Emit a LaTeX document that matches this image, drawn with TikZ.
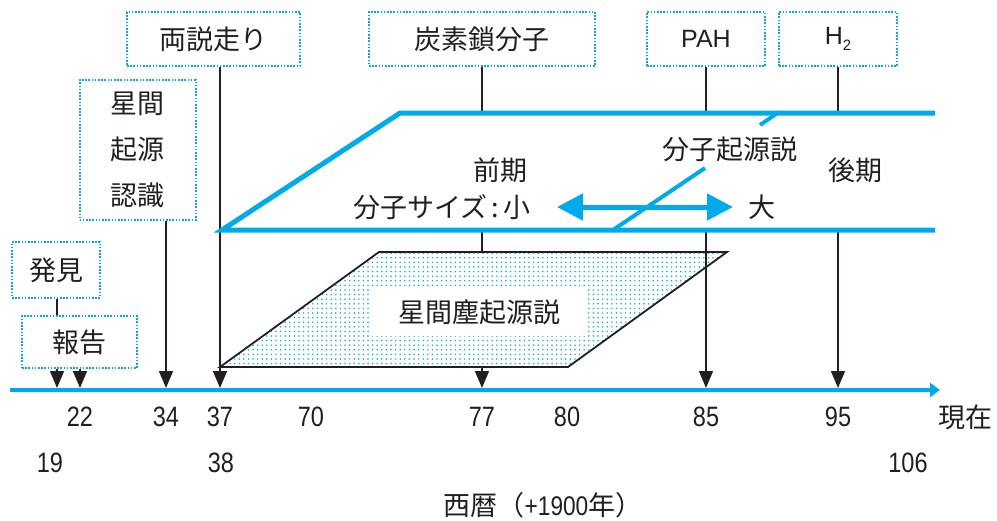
\documentclass[tikz,border=0pt]{standalone}
\usepackage{fontspec}
\setmainfont{Noto Sans CJK JP}
\newfontfamily\latinf{Liberation Sans}
\newfontfamily\numf[FakeStretch=0.84]{Liberation Sans}
\usetikzlibrary{arrows.meta,patterns.meta}
\definecolor{cy}{RGB}{0,170,235}
\definecolor{ink}{RGB}{35,31,32}
\tikzdeclarepattern{name=bdots,type=uncolored,
  bottom left={(-2.3pt,-2.3pt)},top right={(2.3pt,2.3pt)},tile size={(4.6pt,4.6pt)},
  code={\fill (0pt,0pt) circle (0.85pt);}}
\begin{document}
\begin{tikzpicture}[x=1pt,y=-1pt,
  lbl/.style={text=ink,font=\fontsize{27}{30}\selectfont,inner sep=0pt},
  num/.style={text=ink,font=\numf\fontsize{28}{30}\selectfont,inner sep=0pt},
  dbox/.style={draw=cy,line width=2pt,dash pattern=on 1.6pt off 1.6pt,text=ink,
    font=\fontsize{27}{46}\selectfont,inner sep=0pt,align=center},
  conn/.style={draw=ink,line width=1.5pt},
  arr/.style={conn,-{Triangle[length=17pt,width=14pt]}},
  band/.style={draw=cy,line width=5pt},
]
\useasboundingbox (0,0) rectangle (997,520);

% axis coordinates
\coordinate (a19) at (57,388);
\coordinate (a22) at (80,388);
\coordinate (a34) at (166,388);
\coordinate (a37) at (220,388);
\coordinate (a77) at (482,388);
\coordinate (a85) at (706,388);
\coordinate (a95) at (838,388);
\coordinate (axL) at (10,390);
\coordinate (axR) at (940,390);
\coordinate (bt) at (0,113);
\coordinate (bb) at (0,230);
\coordinate (ptop) at (0,252);
\coordinate (pbot) at (0,367);

% boxes
\node[dbox,minimum width=88,minimum height=56] (hakken) at (56,270) {発見};
\node[dbox,minimum width=115,minimum height=52] (houkoku) at (79.5,342) {報告};
\node[dbox,minimum width=116,minimum height=140] (seikan) at (137.5,150) {星間\\起源\\認識};
\node[dbox,minimum width=173,minimum height=54] (ryou) at (213.5,39) {両説走り};
\node[dbox,minimum width=226,minimum height=54] (tanso) at (482,39) {炭素鎖分子};
\node[dbox,minimum width=118,minimum height=54,font=\latinf\fontsize{25}{30}\selectfont] (pah) at (706,39) {PAH};
\node[dbox,minimum width=118,minimum height=54,font=\latinf\fontsize{25}{30}\selectfont] (h2) at (838,39) {H\raisebox{-6pt}{\fontsize{15}{15}\selectfont 2}};

% parallelogram (interstellar dust)
\draw[ink,line width=1.8pt,preaction={fill=white},pattern={bdots},pattern color=cy]
  (220,367) -- (379,252) -- (727,252) -- (568,367) -- cycle;
\node[lbl,fill=white,minimum width=216,minimum height=48] (dust) at (479,312) {星間塵起源説};

% axis
\draw[cy,line width=4pt,-{Triangle[length=10pt,width=14pt]}] (axL) -- (axR);

% connectors
\draw[conn] (hakken.south -| a19) -- (houkoku.north -| a19);
\draw[arr] (houkoku.south -| a19) -- (a19);
\draw[arr] (houkoku.south -| a22) -- (a22);
\draw[arr] (seikan.south -| a34) -- (a34);
\draw[arr] (ryou.south -| a37) -- (a37);
\draw[conn] (tanso.south -| a77) -- (bt -| a77);
\draw[conn] (bb -| a77) -- (ptop -| a77);
\draw[arr] (pbot -| a77) -- (a77);
\draw[conn] (pah.south -| a85) -- (bt -| a85);
\draw[arr] (bb -| a85) -- (a85);
\draw[conn] (h2.south -| a95) -- (bt -| a95);
\draw[arr] (bb -| a95) -- (a95);

% band (molecular origin)
\draw[band] (935,113) -- (400,113) -- (222,230) -- (935,230);
\draw[cy,line width=5pt,{Triangle[length=26pt,width=26pt]}-{Triangle[length=26pt,width=26pt]}] (557,207) -- (733,207);
\draw[cy,line width=4pt] (613,230) -- (705,168);
\draw[cy,line width=4pt] (760,125) -- (779,112);

\node[lbl] (zenki) at (500,170) {前期};
\node[lbl] (size) at (442,207) {分子サイズ\,:\,小};
\node[lbl] (dai) at (762,207) {大};
\node[lbl] (bunshi) at (730,149) {分子起源説};
\node[lbl] (kouki) at (855,170) {後期};

% axis labels
\node[num] (n22) at (80,417) {22};
\node[num] (n34) at (166,417) {34};
\node[num] (n37) at (220,417) {37};
\node[num] (n70) at (311,417) {70};
\node[num] (n77) at (482,417) {77};
\node[num] (n80) at (567,417) {80};
\node[num] (n85) at (706,417) {85};
\node[num] (n95) at (838,417) {95};
\node[lbl] (now) at (965,417) {現在};
\node[num] (n19) at (50,463) {19};
\node[num] (n38) at (221,463) {38};
\node[num] (n106) at (908,463) {106};
\node[lbl] (seireki) at (543,505) {西暦（{\numf +1900}年）};
\end{tikzpicture}
\end{document}
